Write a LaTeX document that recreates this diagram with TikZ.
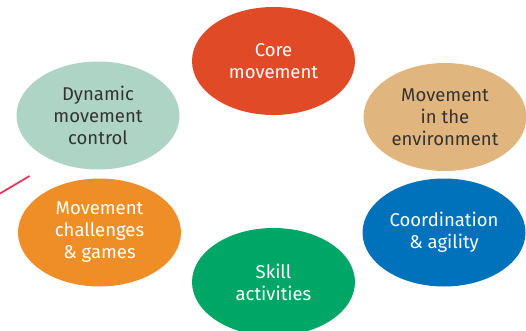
\documentclass[tikz,border=0pt]{standalone}
\usepackage{fontspec}
\setmainfont{Fira Sans}
\usetikzlibrary{shapes.geometric}

\definecolor{coreRed}{HTML}{E04A27}
\definecolor{envTan}{HTML}{E0B67E}
\definecolor{coordBlue}{HTML}{0072BC}
\definecolor{skillGreen}{HTML}{00A666}
\definecolor{gameOrange}{HTML}{EF8E26}
\definecolor{dynMint}{HTML}{AED4C6}
\definecolor{darkText}{HTML}{333333}
\definecolor{lineRed}{HTML}{E8365A}

\begin{document}
\begin{tikzpicture}[x=1pt,y=-1pt,
    blob/.style={ellipse, inner sep=0pt, minimum width=163pt, minimum height=108pt,
                 align=center, font=\fontsize{18.5}{22}\selectfont},
    light/.style={blob, text=white},
    dark/.style={blob, text=darkText}]
    % 画布大小
    \useasboundingbox (0,0) rectangle (526,331);
    \clip (0,0) rectangle (526,331);

    % 六个椭圆
    \node[light, fill=coreRed]    (core)  at (273.5,61)  {Core\\movement};
    \node[dark,  fill=envTan]     (env)   at (445,117)   {Movement\\in the\\environment};
    \node[light, fill=coordBlue]  (coord) at (444,232.5) {Coordination\\\& agility};
    \node[light, fill=skillGreen] (skill) at (273.5,282) {Skill\\activities};
    \node[light, fill=gameOrange] (games) at (99.5,232.5) {Movement\\challenges\\\& games};
    \node[dark,  fill=dynMint]    (dyn)   at (98,115.5)  {Dynamic\\movement\\control};

    % 左侧的短线
    \coordinate (a) at (0,193.5);
    \coordinate (b) at (29.5,176);
    \draw[lineRed, line width=1.8pt] (a) -- (b);
\end{tikzpicture}
\end{document}
